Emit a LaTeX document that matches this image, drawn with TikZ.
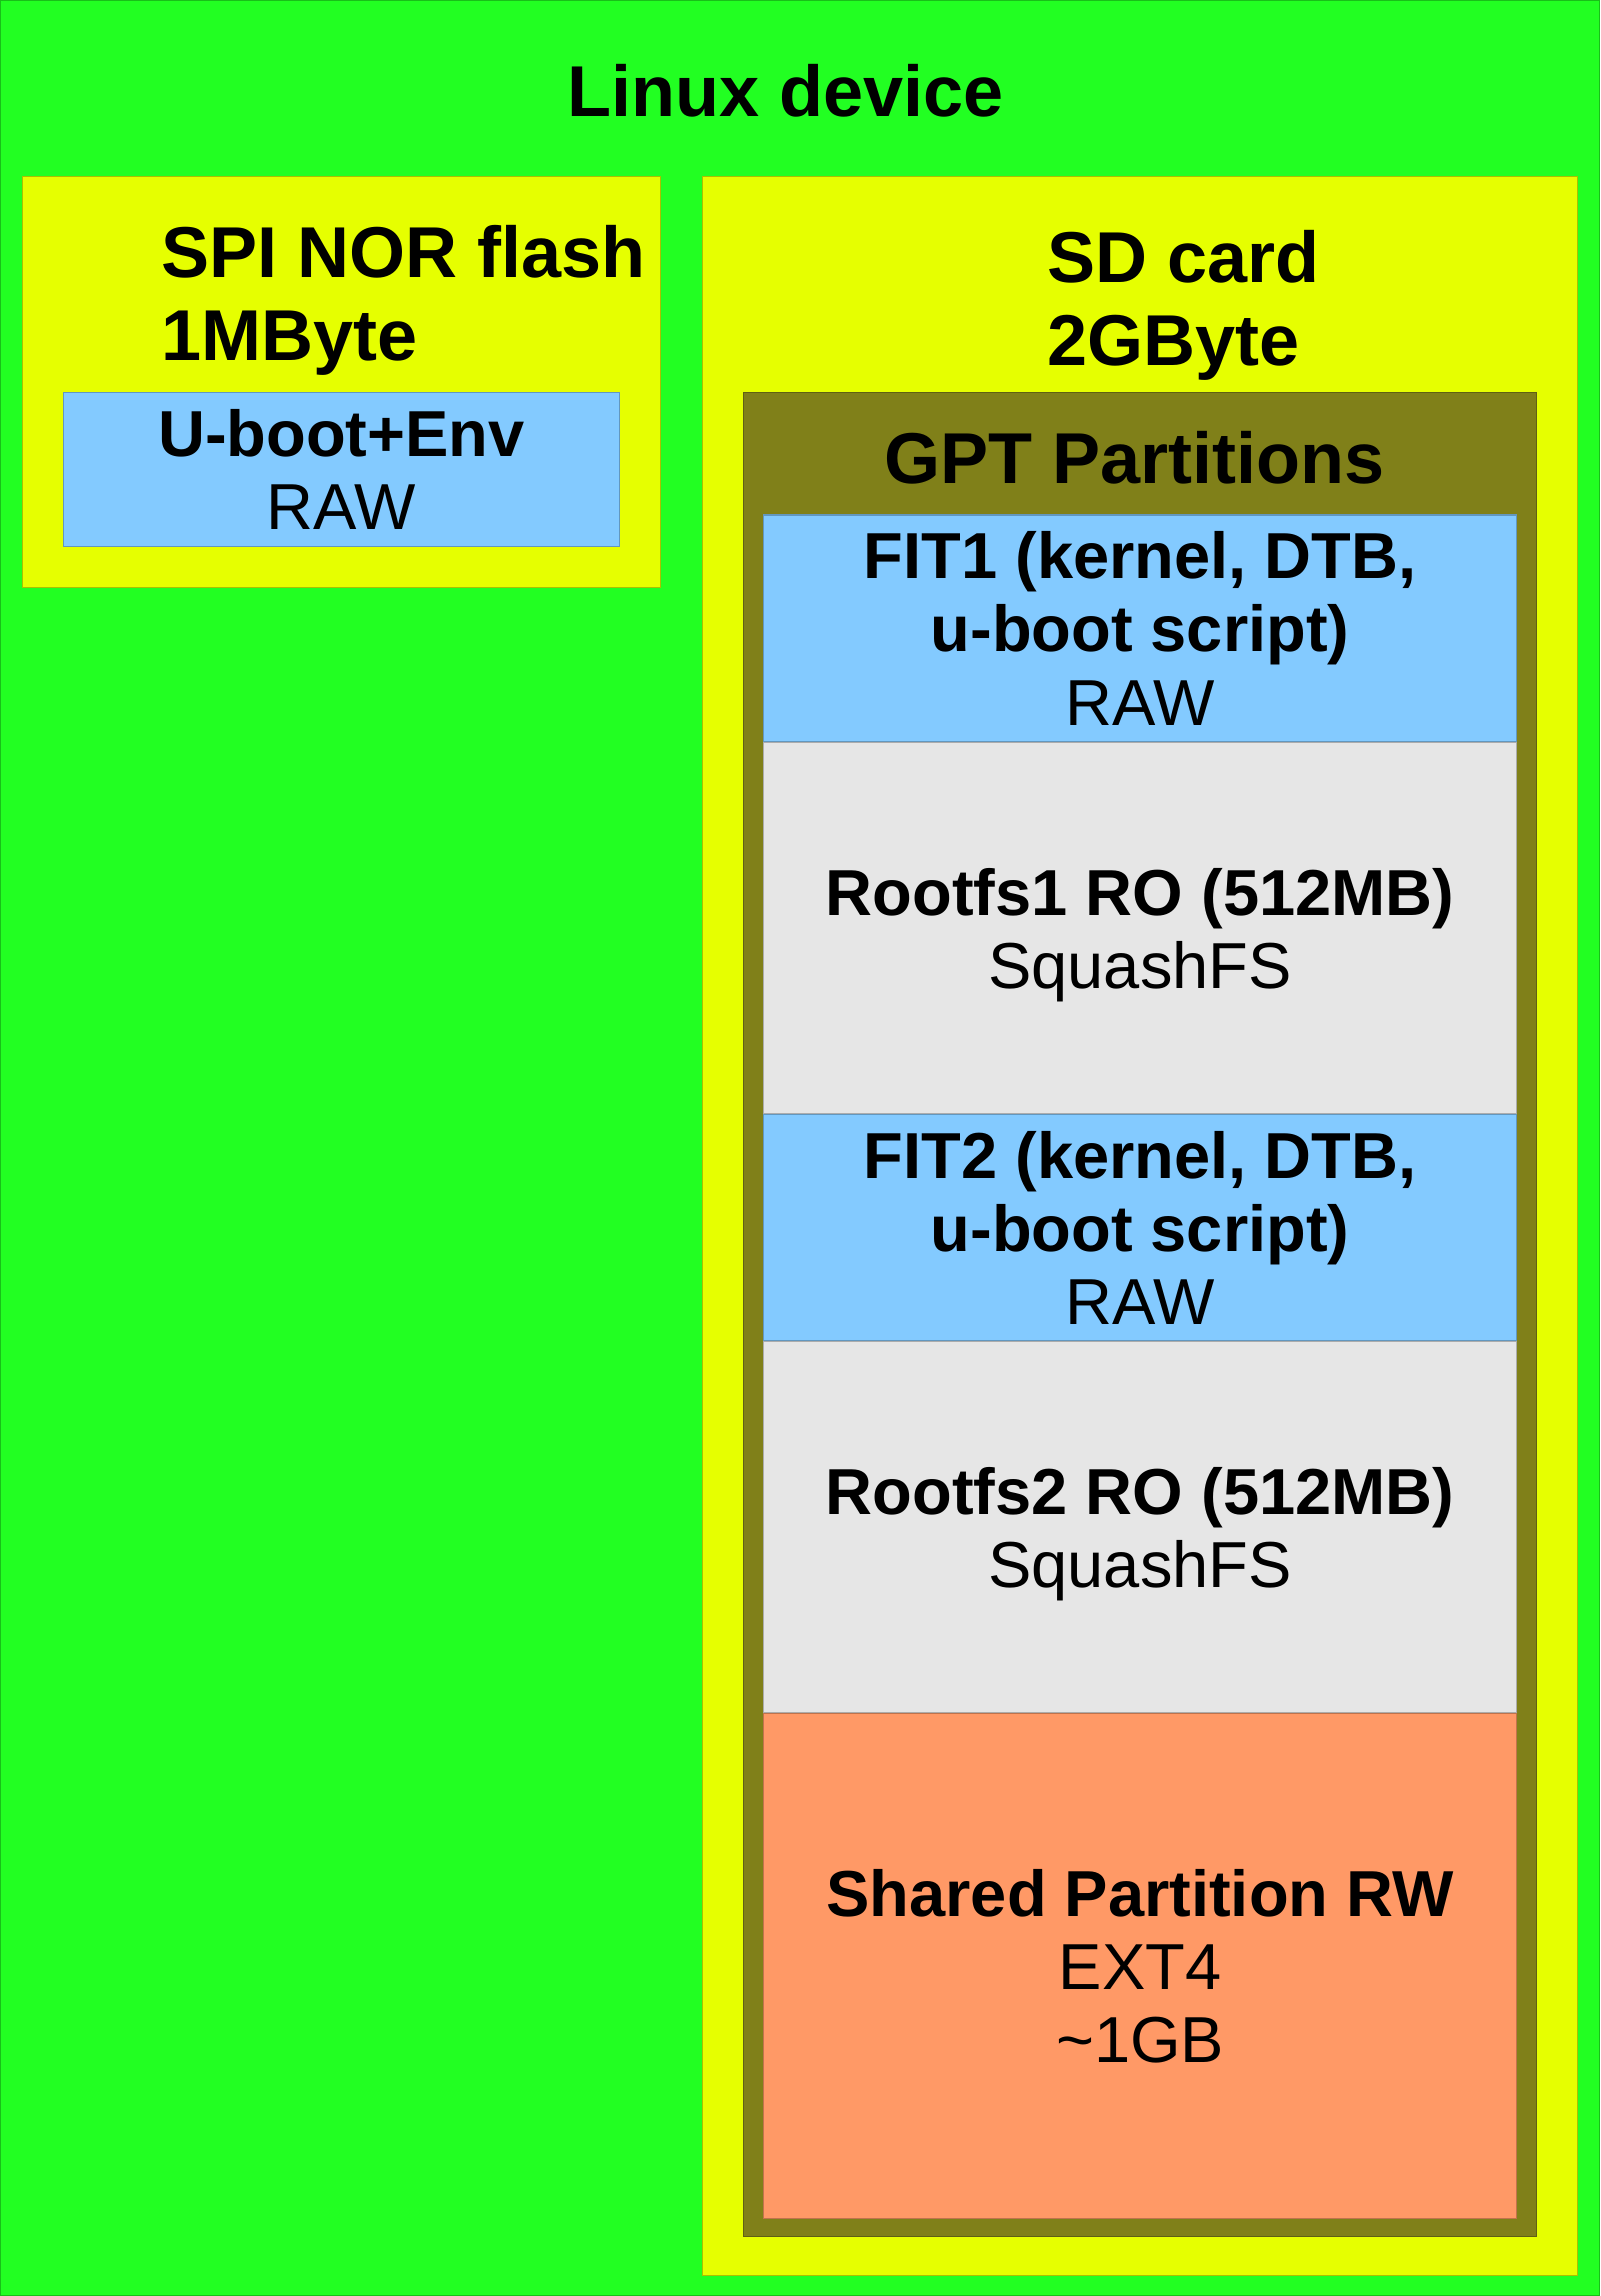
\documentclass[tikz,border=0pt]{standalone}
\usepackage{fontspec}
\setmainfont{Liberation Sans}
\usetikzlibrary{positioning}
\definecolor{devgreen}{RGB}{34,255,34}
\definecolor{chipyellow}{RGB}{230,255,0}
\definecolor{gptolive}{RGB}{128,128,25}
\definecolor{rawblue}{RGB}{131,202,255}
\definecolor{rofsgray}{RGB}{230,230,230}
\definecolor{rworange}{RGB}{255,153,102}
\begin{document}
\begin{tikzpicture}[
    x=0.01cm, y=-0.01cm,
    titlefont/.style={font=\fontsize{20.5}{23.6}\selectfont\bfseries},
    area/.style={draw=#1!75!black, line width=0.3pt, fill=#1, inner sep=0pt, anchor=north west},
    part/.style={area=#1, minimum width=7.53cm, align=center, text depth=0pt,
      font=\fontsize{18.5}{20.8}\selectfont}
]
\node[area=devgreen, minimum width=16cm, minimum height=22.96cm] (dev) at (0,0) {};
\node[titlefont, anchor=base] (devtitle) at (786,117) {Linux device};

\node[area=chipyellow, minimum width=6.38cm, minimum height=4.11cm] (spi) at (22,176) {};
\node[titlefont, anchor=north west, inner sep=0pt, align=left] (spititle) at (161,225)
  {SPI NOR flash\\1MByte};
\node[part=rawblue, minimum width=5.56cm, minimum height=1.54cm] (uboot) at (63,392)
  {\textbf{U-boot+Env}\\RAW};

\node[area=chipyellow, minimum width=8.75cm, minimum height=21cm] (sd) at (703,176) {};
\node[titlefont, anchor=north west, inner sep=0pt, align=left] (sdtitle) at (1048,230)
  {SD card\\2GByte};
\node[area=gptolive, minimum width=7.93cm, minimum height=18.45cm] (gpt) at (744,392) {};
\node[titlefont, anchor=base] (gpttitle) at (1136,484) {GPT Partitions};

\node[part=rawblue, minimum height=2.27cm] (fitone) at (764,515)
  {\textbf{FIT1 (kernel, DTB,}\\\textbf{u-boot script)}\\RAW};
\node[part=rofsgray, minimum height=3.71cm] (rootone) at (fitone.south west)
  {\textbf{Rootfs1 RO (512MB)}\\SquashFS};
\node[part=rawblue, minimum height=2.26cm] (fittwo) at (rootone.south west)
  {\textbf{FIT2 (kernel, DTB,}\\\textbf{u-boot script)}\\RAW};
\node[part=rofsgray, minimum height=3.71cm] (roottwo) at (fittwo.south west)
  {\textbf{Rootfs2 RO (512MB)}\\SquashFS};
\node[part=rworange, minimum height=5.05cm] (shared) at (roottwo.south west)
  {\textbf{Shared Partition RW}\\EXT4\\\textasciitilde1GB};
\end{tikzpicture}
\end{document}
